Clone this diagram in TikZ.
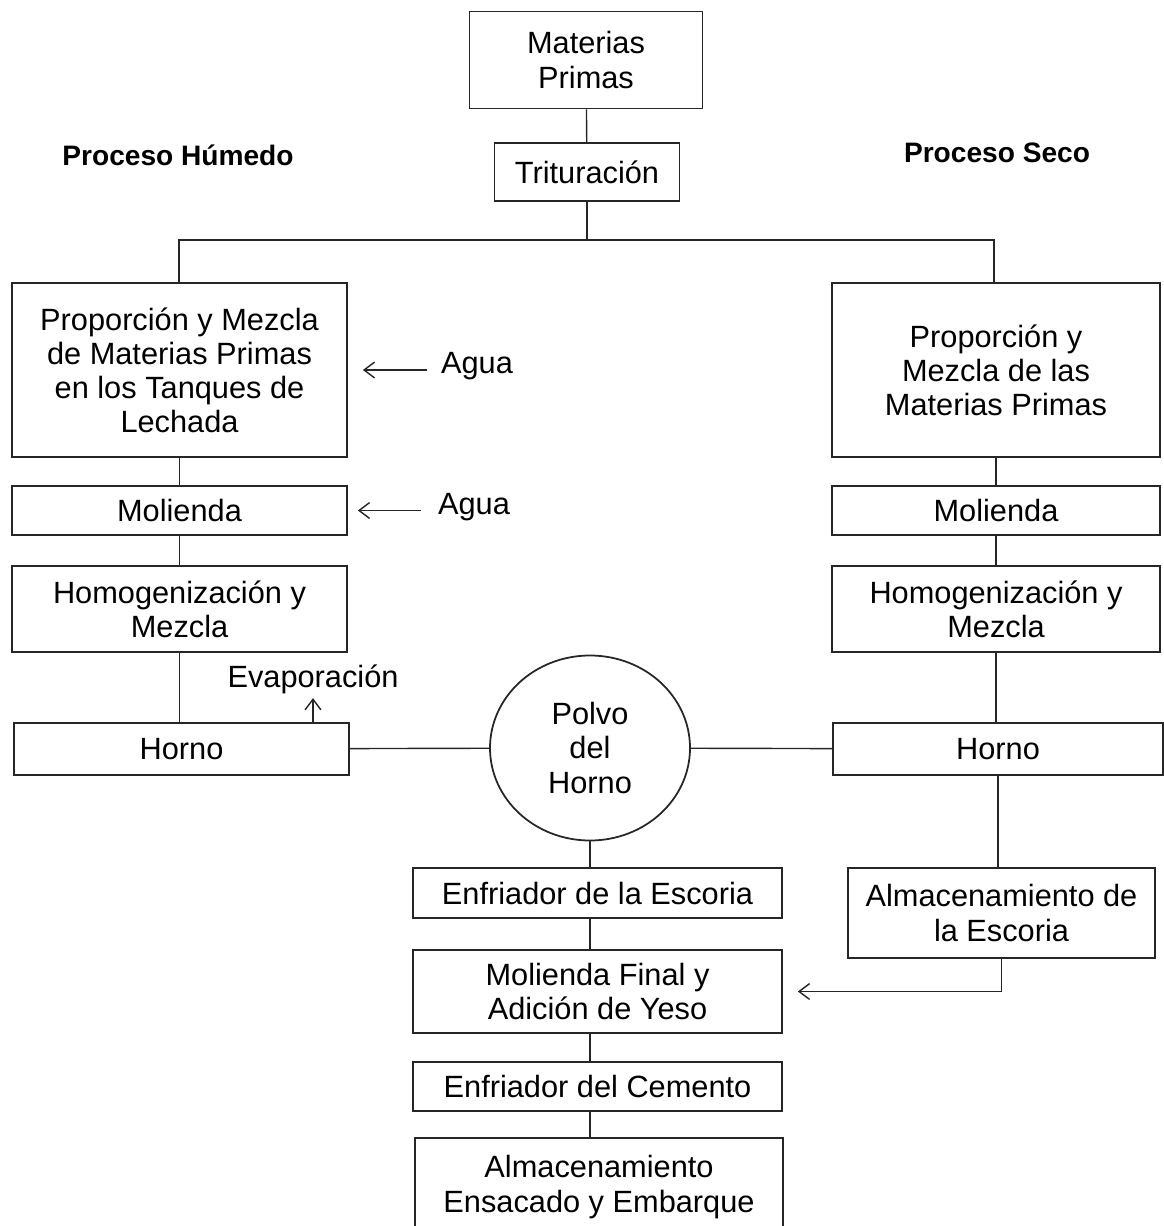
\documentclass[tikz,border=0pt]{standalone}
\usepackage{fontspec}
\setmainfont{Liberation Sans}
\usetikzlibrary{arrows.meta,positioning,shapes.geometric,calc}

\begin{document}
\begin{tikzpicture}[
  box/.style={draw=black!85, line width=1pt, align=center, inner sep=0pt, font=\fontsize{17.5}{19.4}\selectfont},
  wide/.style={box, minimum width=6.70cm},
  mid/.style={box, minimum width=7.38cm},
  side/.style={box, minimum width=6.56cm},
  link/.style={draw=black!85, line width=0.8pt},
  flow/.style={link, -{Straight Barb[length=6pt, width=9pt]}},
  label/.style={inner sep=1pt, font=\fontsize{17.5}{19.4}\selectfont},
  title/.style={inner sep=1pt, font=\fontsize{16}{18}\selectfont\bfseries},
]
  \useasboundingbox (0,0) rectangle (23.26,-24.52);

  % Top
  \node[box, minimum width=4.66cm, minimum height=1.94cm] (raw) at (11.72,-1.20) {Materias\\Primas};
  \node[box, minimum width=3.70cm, minimum height=1.16cm] (crush) at (11.74,-3.44) {Trituración};
  \coordinate (split) at (11.74,-4.80);
  \node[title] (wet) at (3.56,-3.10) {Proceso Húmedo};
  \node[title] (dry) at (19.94,-3.06) {Proceso Seco};

  % Wet process
  \node[wide, minimum height=3.48cm] (mixL) at (3.59,-7.40) {Proporción y Mezcla\\de Materias Primas\\en los Tanques de\\Lechada};
  \node[wide, minimum height=0.98cm] (millL) at (3.59,-10.21) {Molienda};
  \node[wide, minimum height=1.72cm] (homL) at (3.59,-12.18) {Homogenización y\\Mezcla};
  \node[wide, minimum height=1.04cm] (kilnL) at (3.63,-14.98) {Horno};
  \node[label, anchor=west] (water1) at (8.78,-7.32) {Agua};
  \node[label, anchor=west] (water2) at (8.72,-10.14) {Agua};
  \node[label] (evap) at (6.26,-13.58) {Evaporación};

  % Dry process
  \node[side, minimum height=3.48cm] (mixR) at (19.92,-7.40) {Proporción y\\Mezcla de las\\Materias Primas};
  \node[side, minimum height=0.98cm] (millR) at (19.92,-10.21) {Molienda};
  \node[side, minimum height=1.72cm] (homR) at (19.92,-12.18) {Homogenización y\\Mezcla};
  \node[box, minimum width=6.60cm, minimum height=1.04cm] (kilnR) at (19.96,-14.98) {Horno};
  \node[box, minimum width=6.14cm, minimum height=1.80cm] (store) at (20.03,-18.26) {Almacenamiento de\\la Escoria};

  % Common line
  \node[box, ellipse, minimum width=4.00cm, minimum height=3.70cm] (dust) at (11.80,-14.96) {Polvo\\del\\Horno};
  \node[mid, minimum height=1.00cm] (cool) at (11.95,-17.86) {Enfriador de la Escoria};
  \node[mid, minimum height=1.66cm] (grind) at (11.95,-19.83) {Molienda Final y\\Adición de Yeso};
  \node[mid, minimum height=0.98cm] (cement) at (11.95,-21.73) {Enfriador del Cemento};
  \node[box, minimum width=7.36cm, minimum height=1.96cm] (ship) at (11.98,-23.74) {Almacenamiento\\Ensacado y Embarque};

  % Links
  \draw[link] (raw) -- (crush);
  \draw[link] (crush) -- (split);
  \draw[link] (mixL.north -| 3.58,0) |- (split) -| (mixR.north -| 19.88,0);
  \draw[link] (mixL) -- (millL);
  \draw[link] (millL) -- (homL);
  \draw[link] (homL.south) -- (homL.south |- kilnL.north);
  \draw[link] (mixR) -- (millR);
  \draw[link] (millR) -- (homR);
  \draw[link] (homR.south) -- (homR.south |- kilnR.north);
  \draw[link] (kilnR.south) -- (kilnR.south |- store.north);
  \draw[link] (kilnL) -- (dust);
  \draw[link] (dust) -- (kilnR);
  \draw[link] (dust.south) -- (dust.south |- cool.north);
  \draw[link] (cool.south -| dust.south) -- (grind.north -| dust.south);
  \draw[link] (grind.south -| dust.south) -- (cement.north -| dust.south);
  \draw[link] (cement.south -| dust.south) -- (ship.north -| dust.south);

  % Inputs and outputs
  \draw[flow, shorten >=0.30cm] (water1.west |- 0,-7.40) ++(-0.25,0) -- (mixL.east);
  \draw[flow, shorten >=0.20cm] (water2.west |- 0,-10.21) ++(-0.30,0) -- (millL.east);
  \draw[flow] (evap.south |- kilnL.north) -- ($(evap.south)+(0,-0.05)$);
  \draw[flow, shorten >=0.30cm] (store.south) |- (grind.east);
\end{tikzpicture}
\end{document}
